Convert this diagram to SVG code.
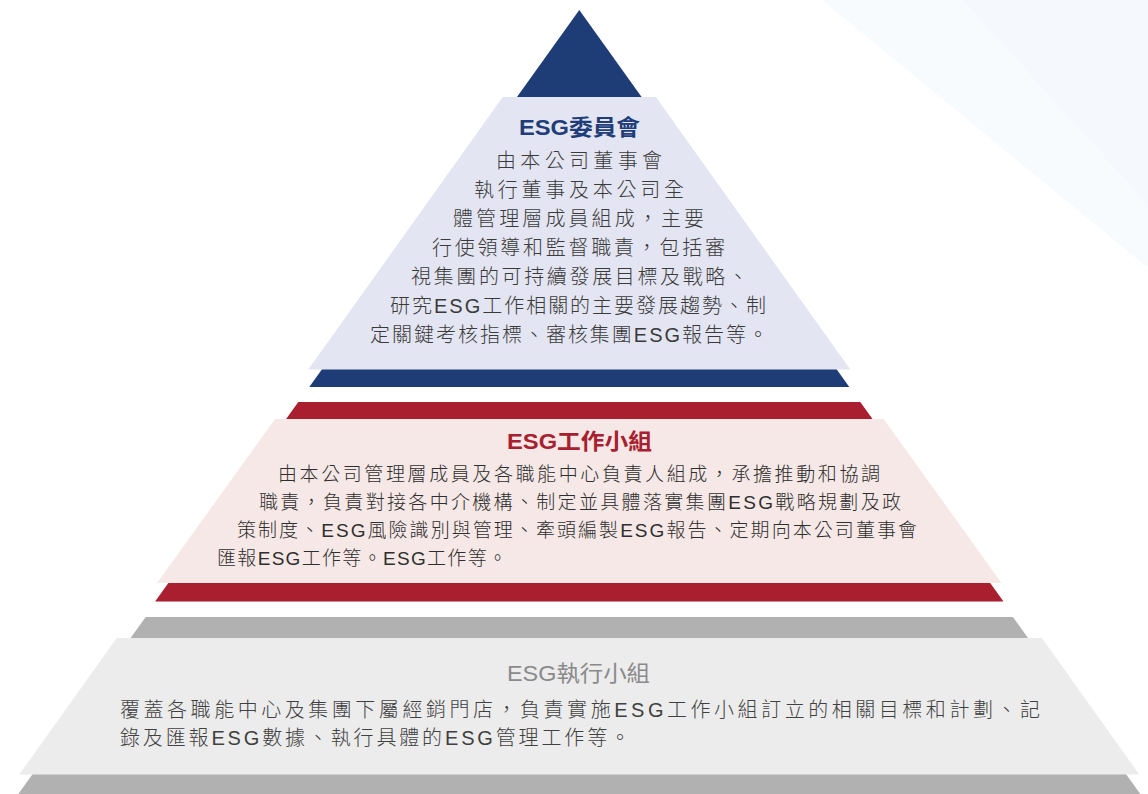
<svg xmlns="http://www.w3.org/2000/svg" width="1148" height="794" viewBox="0 0 1148 794">
<style>
  text { font-family: "Liberation Sans", "Noto Sans CJK TC", sans-serif; }
  .body1 { font-size: 20px; font-weight: 300; fill: #3a3a3a; }
  .body2 { font-size: 19px; font-weight: 300; fill: #2e2e2e; }
  .body3 { font-size: 20px; font-weight: 300; fill: #404040; }
  .t1 { font-size: 22px; font-weight: bold; fill: #1f3d78; }
  .t2 { font-size: 22px; font-weight: bold; fill: #a8202f; }
  .t3 { font-size: 22px; fill: #8a8a8a; }
</style>
<rect x="0" y="0" width="1148" height="794" fill="#ffffff"/>
<g id="background">
  <polygon points="822,0 1148,0 1148,268" fill="#f8fbfe"/>
  <polygon points="963,0 1148,0 1148,205" fill="#f5f9fd"/>
</g>
<g id="tier-committee">
  <polygon points="579.3,10 849.3,387 309.3,387" fill="#1e3d77"/>
  <polygon points="502.7,97 655.9,97 850.3,369.5 308.3,369.5" fill="#e4e5f2"/>
  <text class="t1" x="519" y="135" textLength="121" lengthAdjust="spacingAndGlyphs">ESG委員會</text>
  <text class="body1" x="496" y="168" textLength="166" lengthAdjust="spacing">由本公司董事會</text>
  <text class="body1" x="474" y="197" textLength="210" lengthAdjust="spacing">執行董事及本公司全</text>
  <text class="body1" x="453" y="226" textLength="251" lengthAdjust="spacing">體管理層成員組成，主要</text>
  <text class="body1" x="432" y="255" textLength="293" lengthAdjust="spacing">行使領導和監督職責，包括審</text>
  <text class="body1" x="411" y="284" textLength="337" lengthAdjust="spacing">視集團的可持續發展目標及戰略、</text>
  <text class="body1" x="390" y="313" textLength="376" lengthAdjust="spacing">研究ESG工作相關的主要發展趨勢、制</text>
  <text class="body1" x="370" y="342" textLength="398" lengthAdjust="spacing">定關鍵考核指標、審核集團ESG報告等。</text>
</g>
<g id="tier-working-group">
  <polygon points="298.3,402 860.3,402 1003.5,601.5 155.1,601.5" fill="#a91f2f"/>
  <polygon points="275,419 883.6,419 1001.5,583 157.1,583" fill="#f6e8e6"/>
  <text class="t2" x="507" y="449" textLength="145" lengthAdjust="spacingAndGlyphs">ESG工作小組</text>
  <text class="body2" x="278" y="481" textLength="602" lengthAdjust="spacing">由本公司管理層成員及各職能中心負責人組成，承擔推動和協調</text>
  <text class="body2" x="259" y="509" textLength="642" lengthAdjust="spacing">職責，負責對接各中介機構、制定並具體落實集團ESG戰略規劃及政</text>
  <text class="body2" x="237" y="537" textLength="680" lengthAdjust="spacing">策制度、ESG風險識別與管理、牽頭編製ESG報告、定期向本公司董事會</text>
  <text class="body2" x="217" y="565" textLength="290" lengthAdjust="spacing">匯報ESG工作等。ESG工作等。</text>
</g>
<g id="tier-execution-group">
  <polygon points="145.7,617 1012.9,617 1140.3,794 18.3,794" fill="#b1b1b1"/>
  <polygon points="116.7,638 1041.9,638 1139.3,774.5 19.3,774.5" fill="#ececec"/>
  <text class="t3" x="507" y="681" textLength="143" lengthAdjust="spacingAndGlyphs">ESG執行小組</text>
  <text class="body3" x="120" y="717" textLength="920" lengthAdjust="spacing">覆蓋各職能中心及集團下屬經銷門店，負責實施ESG工作小組訂立的相關目標和計劃、記</text>
  <text class="body3" x="120" y="745" textLength="510" lengthAdjust="spacing">錄及匯報ESG數據、執行具體的ESG管理工作等。</text>
</g>
<g id="connectors"></g>
</svg>
